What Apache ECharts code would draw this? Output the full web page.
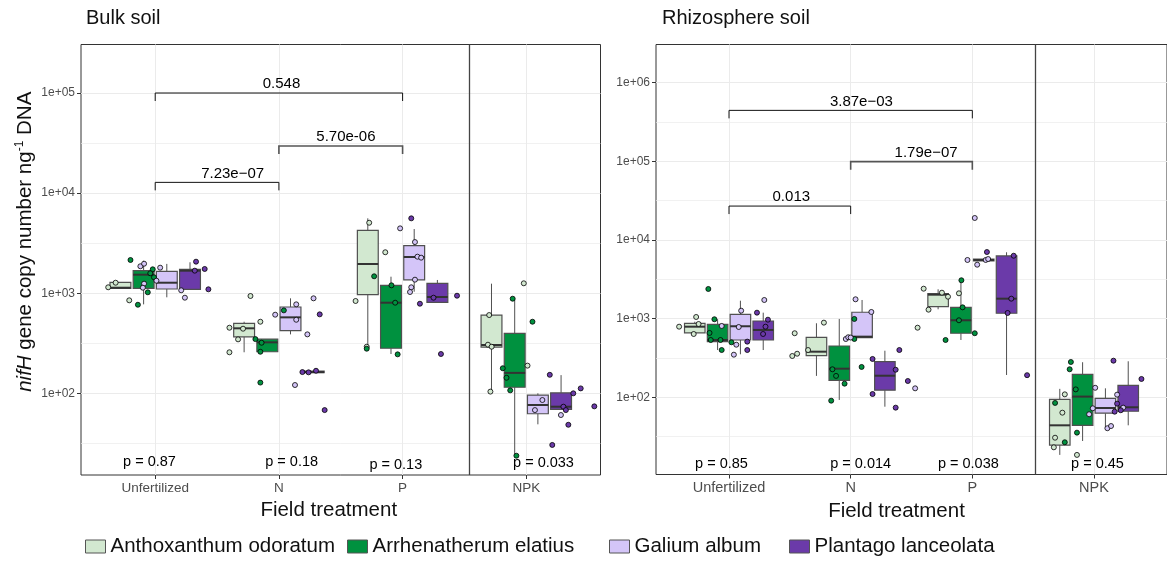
<!DOCTYPE html>
<html>
<head>
<meta charset="utf-8">
<script src="https://cdn.jsdelivr.net/npm/echarts@6.0.0/dist/echarts.min.js"></script>
<style>
html, body { margin: 0; padding: 0; background: #fff; }
#chart { width: 1167px; height: 561px; }
</style>
</head>
<body>
<div id="chart"></div>
<script>
const treatments = ['Unfertilized', 'N', 'P', 'NPK'];
const species = ['Anthoxanthum odoratum', 'Arrhenatherum elatius', 'Galium album', 'Plantago lanceolata'];
const speciesColors = ['#d2e8d0', '#00913f', '#d4c5f8', '#6b3aa9'];

// box stats, one row per treatment: [lower whisker, q1, median, q3, upper whisker]
const bulkBoxAO = [[1119, 1119, 1135, 1285, 1285], [257, 367, 446, 500, 519], [297, 966, 1959, 4246, 5598], [104, 290, 304, 605, 1245]];
const bulkBoxAE = [[774, 1119, 1531, 1679, 2114], [260, 260, 323, 348, 348], [247, 282, 804, 1199, 1462], [24.2, 115, 160, 397, 869]];
const bulkBoxGA = [[910, 1102, 1273, 1656, 1963], [388, 422, 574, 728, 889], [1035, 1356, 2301, 2983, 4375], [49, 62.5, 76.4, 96, 100]];
const bulkBoxPL = [[1094, 1094, 1679, 1733, 2037], [161, 161, 163, 167, 167], [811, 811, 916, 1256, 1356], [69.2, 69.2, 73.5, 101, 152]];

const rhizoBoxAO = [[658, 658, 790, 873, 914], [187, 338, 380, 579, 873], [1315, 1419, 2017, 2075, 2360], [18.5, 24.7, 44, 94.3, 128]];
const rhizoBoxAE = [[399, 510, 535, 847, 982], [92.5, 164, 231, 449, 991], [535, 652, 953, 1393, 3040], [27.8, 44, 102, 196, 279]];
const rhizoBoxGA = [[352, 535, 800, 1135, 1690], [573, 573, 590, 1205, 1726], [5410, 5410, 5570, 5730, 5730], [41, 62.7, 73.1, 97, 130]];
const rhizoBoxPL = [[399, 535, 718, 933, 1191], [75.9, 123, 188, 284, 391], [192, 1170, 1794, 6264, 6980], [44, 66.4, 74.6, 142, 287]];

// single samples: [treatment index, jitter, copies]
const bulkPtsAO = [[0, -0.38, 1146], [0, -0.32, 1273], [0, -0.21, 849], [1, -0.40, 452], [1, -0.29, 442], [1, -0.33, 346], [1, -0.40, 257], [1, -0.23, 938], [1, -0.15, 519],
  [2, -0.27, 5058], [2, -0.38, 836], [2, -0.29, 292], [2, -0.14, 2565], [3, -0.30, 605], [3, -0.31, 306], [3, -0.28, 292], [3, -0.29, 104], [3, -0.02, 1256], [3, 0.01, 189]];
const bulkPtsAE = [[0, -0.20, 2147], [0, -0.02, 1733], [0, -0.04, 1581], [0, -0.01, 1442], [0, -0.06, 1021], [0, -0.14, 767], [1, -0.19, 348], [1, -0.14, 320], [1, -0.15, 260], [1, -0.15, 128], [1, 0.04, 674],
  [2, -0.23, 1476], [2, -0.09, 1199], [2, -0.06, 804], [2, -0.29, 279], [2, -0.04, 245], [3, -0.11, 881], [3, 0.05, 519], [3, -0.19, 178], [3, -0.16, 143], [3, -0.13, 107], [3, -0.08, 23.8]];
const bulkPtsGA = [[0, -0.12, 1858], [0, -0.09, 1970], [0, -0.09, 1245], [0, -0.10, 1135], [0, 0.04, 1799], [0, 0.01, 1333], [0, 0.21, 1069], [0, 0.24, 902],
  [1, -0.03, 610], [1, 0.14, 774], [1, 0.14, 543], [1, 0.28, 889], [1, 0.23, 388], [1, 0.13, 121],
  [2, -0.02, 4446], [2, 0.10, 3243], [2, 0.12, 2317], [2, 0.15, 2265], [2, 0.10, 1365], [2, 0.07, 1146], [2, 0.06, 1028], [3, 0.13, 85.7], [3, 0.07, 68], [3, 0.28, 60.7]];
const bulkPtsPL = [[0, 0.33, 2065], [0, 0.40, 1746], [0, 0.32, 1679], [0, 0.43, 1094], [1, 0.19, 163], [1, 0.24, 162], [1, 0.30, 168], [1, 0.37, 68], [1, 0.33, 615],
  [2, 0.07, 5598], [2, 0.25, 902], [2, 0.14, 785], [2, 0.44, 944], [2, 0.31, 247],
  [3, 0.38, 100], [3, 0.44, 112], [3, 0.30, 73.5], [3, 0.32, 68], [3, 0.34, 48.5], [3, 0.55, 74.1], [3, 0.19, 153], [3, 0.21, 30.5]];

const rhizoPtsAO = [[0, -0.41, 790], [0, -0.27, 1050], [0, -0.25, 855], [0, -0.29, 638], [1, -0.46, 652], [1, -0.35, 399], [1, -0.48, 335], [1, -0.44, 358], [1, -0.22, 889],
  [2, -0.40, 2403], [2, -0.25, 2138], [2, -0.20, 1901], [2, -0.36, 1300], [2, -0.45, 767], [2, -0.11, 2100], [3, -0.26, 63.7], [3, -0.32, 30.6], [3, -0.33, 23.1], [3, -0.24, 109], [3, -0.14, 18.5]];
const rhizoPtsAE = [[0, -0.17, 2383], [0, -0.12, 982], [0, -0.16, 658], [0, -0.15, 535], [0, -0.07, 535], [0, -0.06, 399], [0, 0.02, 500],
  [1, -0.15, 227], [1, -0.12, 187], [1, -0.05, 149], [1, -0.16, 90.5], [1, 0.03, 991], [1, 0.09, 243], [1, 0.03, 551],
  [2, -0.09, 3076], [2, -0.08, 1393], [2, -0.11, 953], [2, 0.02, 652], [2, -0.22, 535], [3, -0.19, 281], [3, -0.20, 227], [3, -0.15, 126], [3, -0.14, 35.5], [3, -0.24, 26.8], [3, -0.32, 84.7]];
const rhizoPtsGA = [[0, 0.10, 1262], [0, 0.08, 783], [0, 0.06, 466], [0, 0.04, 348], [0, -0.06, 807], [0, 0.29, 1726],
  [1, 0.04, 1762], [1, 0.17, 1216], [1, -0.04, 551], [1, -0.02, 580], [1, 0.00, 575], [1, 0.53, 130],
  [2, -0.04, 5570], [2, 0.04, 4853], [2, 0.11, 5570], [2, 0.13, 5730], [2, 0.02, 19050],
  [3, 0.01, 132], [3, -0.01, 72.4], [3, -0.04, 60.8], [3, 0.11, 40.4], [3, 0.14, 43.1], [3, 0.19, 108], [3, 0.24, 73.8]];
const rhizoPtsPL = [[0, 0.23, 1191], [0, 0.32, 970], [0, 0.30, 790], [0, 0.28, 638], [0, 0.15, 510], [0, 0.15, 399],
  [1, 0.18, 307], [1, 0.40, 399], [1, 0.37, 224], [1, 0.18, 110], [1, 0.37, 73.8], [1, 0.47, 161],
  [2, 0.12, 7030], [2, 0.34, 6310], [2, 0.32, 1794], [2, 0.29, 1180], [2, 0.45, 191], [3, 0.16, 292], [3, 0.19, 83], [3, 0.22, 68.4], [3, 0.17, 65.6], [3, 0.39, 171]];

// kruskal p-values per treatment: text, x, y (copies)
const bulkPText = ['p = 0.87', 'p = 0.18', 'p = 0.13', 'p = 0.033'];
const bulkPX = [0.954, 2.103, 2.945, 4.139];
const bulkPY = [20.8, 20.8, 19.2, 20.3];
const rhizoPText = ['p = 0.85', 'p = 0.014', 'p = 0.038', 'p = 0.45'];
const rhizoPX = [0.938, 2.082, 2.967, 4.029];
const rhizoPY = [14.2, 14.2, 14.2, 14.2];

// pairwise comparisons: [from, to, bracket height (copies), label x]
const bulkBrackets = [[1, 3, 100000, 2.021], [2, 3, 29600, 2.542], [1, 2, 12800, 1.626]];
const bulkBracketText = ['0.548', '5.70e-06', '7.23e\u221207'];
const rhizoBrackets = [[1, 3, 445000, 2.088], [2, 3, 99100, 2.62], [1, 2, 27000, 1.512]];
const rhizoBracketText = ['3.87e\u221203', '1.79e\u221207', '0.013'];

const bulkMajor = [2, 3, 4, 5];
const bulkMinor = [1.5, 2.5, 3.5, 4.5];
const rhizoMajor = [2, 3, 4, 5, 6];
const rhizoMinor = [1.5, 2.5, 3.5, 4.5, 5.5];

const FONT = 'Liberation Sans, Arial, Helvetica, sans-serif';
const dodge = 0.1875;
const boxW = dodge * 0.9;
const lg = Math.log10;

function renderBox(params, api) {
  const x = api.value(0) + (api.value(1) - 1.5) * dodge;
  const half = api.size([boxW, 0])[0] / 2;
  const lo = api.coord([x, api.value(2)]);
  const q1 = api.coord([x, api.value(3)]);
  const med = api.coord([x, api.value(4)]);
  const q3 = api.coord([x, api.value(5)]);
  const hi = api.coord([x, api.value(6)]);
  const edge = '#505050';
  return {
    type: 'group',
    children: [
      { type: 'line', shape: { x1: lo[0], y1: lo[1], x2: q1[0], y2: q1[1] }, style: { stroke: edge, lineWidth: 1 } },
      { type: 'line', shape: { x1: q3[0], y1: q3[1], x2: hi[0], y2: hi[1] }, style: { stroke: edge, lineWidth: 1 } },
      { type: 'rect', shape: { x: q3[0] - half, y: q3[1], width: half * 2, height: Math.max(q1[1] - q3[1], 0.5) },
        style: { fill: api.visual('color'), stroke: edge, lineWidth: 1.2 } },
      { type: 'line', shape: { x1: med[0] - half, y1: med[1], x2: med[0] + half, y2: med[1] }, style: { stroke: '#333', lineWidth: 2 } }
    ]
  };
}

function bracketRenderer(texts) {
  return function (params, api) {
    const y = api.value(2);
    const a = api.coord([api.value(0), y]);
    const b = api.coord([api.value(1), y]);
    const lx = api.coord([api.value(3), y])[0];
    const mid = params.dataIndex === 1;
    return {
      type: 'group',
      children: [
        { type: 'polyline', shape: { points: [[a[0], a[1] + 8], [a[0], a[1]], [b[0], b[1]], [b[0], b[1] + 8]] },
          style: { stroke: mid ? '#555' : '#111', lineWidth: mid ? 1.6 : 1, fill: null } },
        { type: 'text', x: lx, y: a[1] - 1.5,
          style: { text: texts[params.dataIndex], fill: '#000', fontSize: 15, fontFamily: FONT, align: 'center', verticalAlign: 'bottom' } }
      ]
    };
  };
}

function textRenderer(texts) {
  return function (params, api) {
    const p = api.coord([api.value(0), api.value(1)]);
    return { type: 'text', x: p[0], y: p[1],
      style: { text: texts[params.dataIndex], fill: '#000', fontSize: 14.5, fontFamily: FONT, align: 'center', verticalAlign: 'middle' } };
  };
}

function panelSeries(g, boxes, pts, pText, pX, pY, brackets, bracketText, sepX) {
  const out = [];
  boxes.forEach((rows, s) => {
    out.push({
      type: 'custom', name: species[s], xAxisIndex: g, yAxisIndex: g * 2, z: 2,
      itemStyle: { color: speciesColors[s] },
      renderItem: renderBox,
      encode: { x: 0, y: [2, 3, 4, 5, 6] },
      data: rows.map((r, c) => [c + 1, s].concat(r.map(lg)))
    });
  });
  pts.forEach((list, s) => {
    out.push({
      type: 'scatter', name: species[s], xAxisIndex: g, yAxisIndex: g * 2, z: 4,
      symbol: 'circle', symbolSize: 5,
      itemStyle: { color: speciesColors[s], borderColor: '#000', borderWidth: 0.8, opacity: 1 },
      data: list.map(([c, j, v]) => [c + 1 + j, lg(v)])
    });
  });
  out.push({
    type: 'custom', xAxisIndex: g, yAxisIndex: g * 2, z: 5, silent: true,
    renderItem: textRenderer(pText),
    data: pX.map((x, i) => [x, lg(pY[i])])
  });
  out.push({
    type: 'custom', xAxisIndex: g, yAxisIndex: g * 2, z: 5, silent: true,
    renderItem: bracketRenderer(bracketText),
    data: brackets.map(b => [b[0], b[1], lg(b[2]), b[3]]),
    markLine: {
      silent: true, symbol: 'none', label: { show: false },
      lineStyle: { color: '#444', type: 'solid', width: 1.3 },
      data: [{ xAxis: sepX }]
    }
  });
  return out;
}

function xAxisFor(g, labelSize, nameShift) {
  return {
    type: 'value', gridIndex: g, min: 0.4, max: 4.6,
    axisLine: { show: false },
    axisTick: { show: true, length: 4, customValues: [1, 2, 3, 4], lineStyle: { color: '#333' } },
    axisLabel: { customValues: [1, 2, 3, 4], formatter: v => treatments[Math.round(v) - 1],
      color: '#4d4d4d', fontSize: labelSize, fontFamily: FONT, margin: 6 },
    splitLine: { show: true, lineStyle: { color: '#ebebeb', width: 1 } },
    name: 'Field treatment', nameLocation: 'middle', nameGap: 25,
    nameTextStyle: { fontSize: 20.5, color: '#111', fontFamily: FONT, padding: [0, nameShift, 0, 0] }
  };
}

function yAxesFor(g, min, max, major, minor, withName) {
  const main = {
    type: 'value', gridIndex: g, min, max,
    axisLine: { show: false },
    axisTick: { show: true, length: 4, customValues: major, lineStyle: { color: '#333' } },
    axisLabel: { customValues: major, formatter: v => '1e+0' + Math.round(v), color: '#4d4d4d', fontSize: 12, fontFamily: FONT, margin: 6 },
    splitLine: { show: true, lineStyle: { color: '#ebebeb', width: 1 } }
  };
  if (withName) {
    Object.assign(main, {
      name: '{i|nifH} gene copy number ng{s|-1} DNA',
      nameLocation: 'middle', nameGap: 45, nameRotate: 90,
      nameTextStyle: {
        fontSize: 20.5, color: '#111', fontFamily: FONT, padding: [0, 0, 0, 36],
        rich: {
          i: { fontSize: 20.5, fontStyle: 'italic', color: '#111', fontFamily: FONT },
          s: { fontSize: 12, color: '#111', fontFamily: FONT, verticalAlign: 'top', lineHeight: 22 }
        }
      }
    });
  }
  const minorAxis = {
    type: 'value', gridIndex: g, min, max, position: 'left',
    axisLine: { show: false },
    axisTick: { show: false, customValues: minor },
    axisLabel: { show: false, customValues: minor },
    splitLine: { show: true, lineStyle: { color: '#ebebeb', width: 0.7 } }
  };
  return [main, minorAxis];
}

function legendItem(i, left) {
  return {
    left, top: 536, padding: 0, selectedMode: false,
    itemWidth: 20, itemHeight: 13,
    textStyle: { fontSize: 20.5, color: '#111', fontFamily: FONT },
    data: [{ name: species[i], icon: 'rect', itemStyle: { color: speciesColors[i], borderColor: '#555', borderWidth: 1 } }]
  };
}

const chart = echarts.init(document.getElementById('chart'), null, { renderer: 'canvas' });
chart.setOption({
  animation: false,
  backgroundColor: '#fff',
  textStyle: { fontFamily: FONT },
  title: [
    { text: 'Bulk soil', left: 86, top: 8, padding: 0, textStyle: { fontSize: 20, fontWeight: 'normal', color: '#111', fontFamily: FONT } },
    { text: 'Rhizosphere soil', left: 662, top: 8, padding: 0, textStyle: { fontSize: 20, fontWeight: 'normal', color: '#111', fontFamily: FONT } }
  ],
  legend: [legendItem(0, 85), legendItem(1, 347), legendItem(2, 609), legendItem(3, 789)],
  grid: [
    { left: 81, top: 44.5, width: 519.5, height: 430.5, show: true, borderColor: '#333', borderWidth: 1, backgroundColor: 'transparent' },
    { left: 656, top: 44.5, width: 519.5, height: 430, show: true, borderColor: '#333', borderWidth: 1, backgroundColor: 'transparent' }
  ],
  xAxis: [xAxisFor(0, 13.5, 24), xAxisFor(1, 14.5, 30)],
  yAxis: yAxesFor(0, 1.184, 5.4845, bulkMajor, bulkMinor, true)
    .concat(yAxesFor(1, 1.018, 6.486, rhizoMajor, rhizoMinor, false)),
  series: panelSeries(0, [bulkBoxAO, bulkBoxAE, bulkBoxGA, bulkBoxPL], [bulkPtsAO, bulkPtsAE, bulkPtsGA, bulkPtsPL],
      bulkPText, bulkPX, bulkPY, bulkBrackets, bulkBracketText, 3.545)
    .concat(panelSeries(1, [rhizoBoxAO, rhizoBoxAE, rhizoBoxGA, rhizoBoxPL], [rhizoPtsAO, rhizoPtsAE, rhizoPtsGA, rhizoPtsPL],
      rhizoPText, rhizoPX, rhizoPY, rhizoBrackets, rhizoBracketText, 3.52))
});
</script>
</body>
</html>
